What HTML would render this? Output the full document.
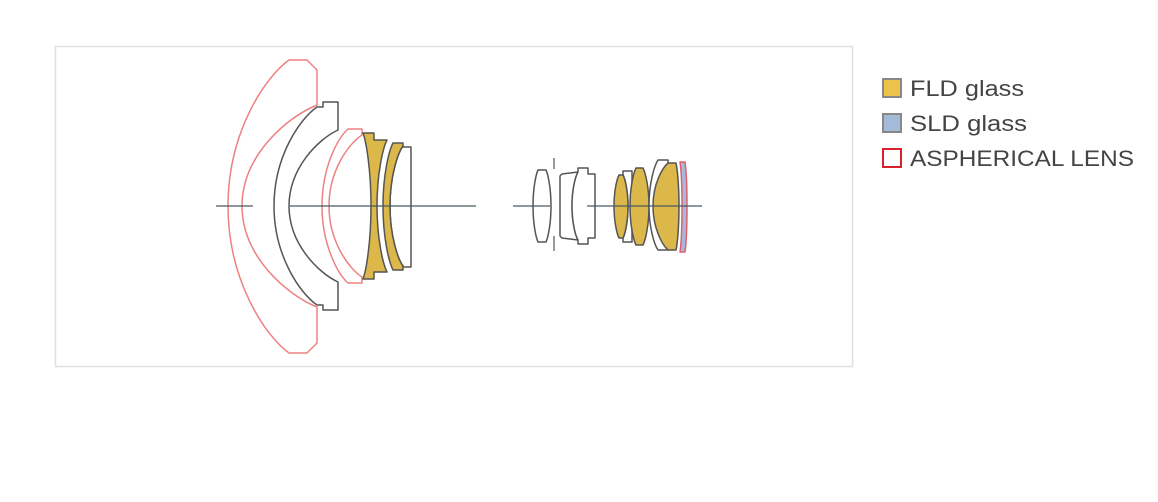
<!DOCTYPE html>
<html><head><meta charset="utf-8"><style>
html,body{margin:0;padding:0;background:#fff;width:1158px;height:502px;overflow:hidden}
svg{display:block}
text{font-family:"Liberation Sans",sans-serif;font-size:22px;fill:#444}
</style></head><body>
<svg id="s" width="1158" height="502" viewBox="0 0 1158 502">
<rect x="55.5" y="46.5" width="797" height="320" fill="#fff" stroke="#e0e0e0" stroke-width="1.5"/>
<g id="g" stroke-linejoin="round"></g>
<rect x="883" y="79" width="18" height="18" fill="#edc44a" stroke="#888" stroke-width="2"/>
<rect x="883" y="114" width="18" height="18" fill="#a3bbd8" stroke="#888" stroke-width="2"/>
<rect x="883" y="149" width="18" height="18" fill="#fff" stroke="#d9232b" stroke-width="2"/>
<text x="910" y="96" textLength="114" lengthAdjust="spacingAndGlyphs">FLD glass</text>
<text x="910" y="131" textLength="117" lengthAdjust="spacingAndGlyphs">SLD glass</text>
<text x="910" y="166" textLength="224" lengthAdjust="spacingAndGlyphs">ASPHERICAL LENS</text>
</svg>
<script>
function seg(x1,y1,xv,x2,y2){
 var c1x=x1+(xv-x1)*0.4,c1y=y1+(206-y1)*0.12,c2y=206-(206-y1)*0.5;
 var c3y=206+(y2-206)*0.5,c4x=x2+(xv-x2)*0.4,c4y=y2-(y2-206)*0.12;
 return " L"+x1+","+y1+" C"+c1x+","+c1y+" "+xv+","+c2y+" "+xv+",206 C"+xv+","+c3y+" "+c4x+","+c4y+" "+x2+","+y2;
}
var R="#ee8080",K="#555",Y="#dcb84a",W="#fff",B="#a3bbd8";
var P=[
 ["M289,60 L307,60 L317,70 L317,105"+seg(317,105,242,317,307)+" L317,343 L307,353 L289,353"+seg(289,353,228,289,60)+" Z",W,R],
 ["M317,107 L323,107 L323,102 L338,102 L338,130"+seg(338,130,289,338,282)+" L338,310 L323,310 L323,305 L317,305"+seg(317,305,274,317,107)+" Z",W,K],
 ["M348,129 L362,129 L362,135"+seg(362,135,329,362,277)+" L362,283 L348,283"+seg(348,283,322,348,129)+" Z",W,R],
 ["M363,133 L374,133 L374,140 L387,140"+seg(387,140,377,387,272)+" L374,272 L374,279 L363,279"+seg(363,279,371,363,133)+" Z",Y,K],
 ["M403,147 L411,147 L411,267 L403,267"+seg(403,266,390,403,146)+" Z",W,K],
 ["M393,143 L403,143 L403,146"+seg(403,146,390,403,266)+" L403,270 L393,270"+seg(393,270,383,393,143)+" Z",Y,K],
 ["M538,170 L546,170"+seg(546,170,551,546,242)+" L538,242"+seg(538,242,533,538,170)+" Z",W,K],
 ["M562,174 L578,172"+seg(578,172,572,578,240)+" L562,238 L560,236 L560,176 Z",W,K],
 ["M578,168 L588,168 L588,174 L595,174 L595,238 L588,238 L588,244 L578,244"+seg(578,240,572,578,172)+" Z",W,K],
 ["M623,171 L632,171 L632,242 L623,242"+seg(623,238,628,623,175)+" Z",W,K],
 ["M619,175 L623,175"+seg(623,175,628,623,238)+" L619,238"+seg(619,238,614,619,175)+" Z",Y,K],
 ["M636,168 L643,168"+seg(643,168,649,643,245)+" L636,245"+seg(636,245,630,636,168)+" Z",Y,K],
 ["M658,160 L668,160 L668,250 L658,250"+seg(658,250,649,658,160)+" Z",W,K],
 ["M668,163 L676,163"+seg(676,163,679,676,250)+" L668,250"+seg(668,250,653,668,163)+" Z",Y,K],
 ["M680,162 L685,162"+seg(685,162,687,685,252)+" L680,252"+seg(680,252,682,680,162)+" Z",B,"#e06070"]
];
var h="";
P.forEach(function(p){h+='<path d="'+p[0]+'" fill="'+p[1]+'" stroke="'+p[2]+'" stroke-width="1.5"/>';});
h+='<g stroke="#4a5a60" stroke-width="1.3">';
[[216,253],[290,476],[513,550],[587,702]].forEach(function(a){h+='<line x1="'+a[0]+'" y1="206" x2="'+a[1]+'" y2="206"/>';});
h+='</g><g stroke="#999" stroke-width="2"><line x1="554" y1="158" x2="554" y2="169"/><line x1="554" y1="236" x2="554" y2="251"/></g>';
document.getElementById("g").innerHTML=h;
</script>
</body></html>
